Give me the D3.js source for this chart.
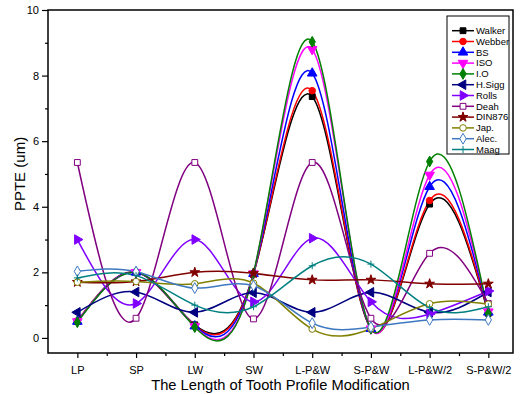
<!DOCTYPE html>
<html>
<head>
<meta charset="utf-8">
<script src="https://cdn.jsdelivr.net/npm/d3@7"></script>
<style>
    body { margin: 0; background: #fff; }
    svg { display: block; font-family: Arial, "Liberation Sans", sans-serif; }
</style>
</head>
<body>
<svg id="chart"></svg>
<script>
// values
const categories = ['LP', 'SP', 'LW', 'SW', 'L-P&W', 'S-P&W', 'L-P&W/2', 'S-P&W/2'];

const walker = [0.50, 2.00, 0.40, 1.95, 7.36, 0.28, 4.08, 0.75];
const webber = [0.52, 2.00, 0.38, 1.95, 7.54, 0.28, 4.19, 0.77];
const bs = [0.50, 2.00, 0.36, 1.96, 8.07, 0.28, 4.61, 0.78];
const iso = [0.50, 2.00, 0.35, 1.96, 8.80, 0.28, 4.97, 0.80];
const io = [0.48, 2.00, 0.33, 1.97, 9.03, 0.28, 5.38, 0.75];
const hSigg = [0.78, 1.40, 0.78, 1.38, 0.78, 1.39, 0.78, 1.40];
const rolls = [3.00, 1.05, 3.00, 1.10, 3.04, 1.10, 0.73, 1.43];
const deah = [5.35, 0.60, 5.35, 0.58, 5.35, 0.60, 2.58, 1.05];
const din876 = [1.70, 1.72, 2.00, 1.97, 1.77, 1.77, 1.65, 1.65];
const jap = [1.70, 1.72, 1.65, 1.67, 0.27, 0.28, 1.04, 1.03];
const alec = [2.03, 2.02, 1.52, 1.59, 0.45, 0.33, 0.55, 0.55];
const maag = [1.83, 1.90, 1.00, 0.95, 2.20, 2.25, 0.92, 0.95];

const seriesNames = ['Walker', 'Webber', 'BS', 'ISO', 'I.O', 'H.Sigg', 'Rolls', 'Deah', 'DIN876', 'Jap.', 'Alec.', 'Maag'];
const seriesValues = [walker, webber, bs, iso, io, hSigg, rolls, deah, din876, jap, alec, maag];

const yTicks = [0, 2, 4, 6, 8, 10];
const yMinorTicks = [1, 3, 5, 7, 9];

// marker styles, one per series
const styles = [
    { color: '#000000', shape: 'square', filled: true },
    { color: '#ff0000', shape: 'circle', filled: true },
    { color: '#0000ff', shape: 'up', filled: true },
    { color: '#ff00ff', shape: 'down', filled: true },
    { color: '#008000', shape: 'diamond', filled: true },
    { color: '#000080', shape: 'left', filled: true },
    { color: '#8000ff', shape: 'right', filled: true },
    { color: '#800080', shape: 'square', filled: false },
    { color: '#800000', shape: 'star', filled: true },
    { color: '#808000', shape: 'circle', filled: false },
    { color: '#3d78c0', shape: 'diamond', filled: false },
    { color: '#008080', shape: 'plus', filled: false },
];

const series = seriesNames.map((name, i) => ({ name, values: seriesValues[i], ...styles[i] }));

const width = 520;
const height = 394;
const margin = { top: 10, right: 7, bottom: 41, left: 48 };
const plotRight = width - margin.right;
const plotBottom = height - margin.bottom;

const svg = d3.select('#chart')
    .attr('width', width)
    .attr('height', height);

const x = d3.scaleLinear()
    .domain([-0.5, 7.42])
    .range([margin.left, plotRight]);

const y = d3.scaleLinear()
    .domain([-0.46, 10])
    .range([plotBottom, margin.top]);

const symbolPath = (shape) => {
    const sym = (type, size) => d3.symbol().type(type).size(size)();
    switch (shape) {
    case 'square': return { d: sym(d3.symbolSquare, 34), rot: 0 };
    case 'circle': return { d: sym(d3.symbolCircle, 34), rot: 0 };
    case 'up': return { d: sym(d3.symbolTriangle, 40), rot: 0 };
    case 'down': return { d: sym(d3.symbolTriangle, 40), rot: 180 };
    case 'left': return { d: sym(d3.symbolTriangle, 40), rot: -90 };
    case 'right': return { d: sym(d3.symbolTriangle, 40), rot: 90 };
    case 'diamond': return { d: sym(d3.symbolDiamond, 34), rot: 0 };
    case 'star': return { d: sym(d3.symbolStar, 30), rot: 0 };
    default: return { d: 'M-3.5,0H3.5M0,-3.5V3.5', rot: 0 };
    }
};

const drawMarker = (g, s, cx, cy) => {
    const { d, rot } = symbolPath(s.shape);
    g.append('path')
        .attr('d', d)
        .attr('transform', `translate(${cx},${cy}) rotate(${rot})`)
        .style('fill', s.filled ? s.color : (s.shape === 'plus' ? 'none' : '#fff'))
        .style('stroke', s.color)
        .style('stroke-width', 1);
};

// axes
const xAxis = d3.axisBottom(x)
    .tickValues(d3.range(categories.length))
    .tickFormat(i => categories[i])
    .tickSize(5)
    .tickSizeOuter(0);

const xMinor = d3.axisBottom(x)
    .tickValues(d3.range(0.5, 7, 1))
    .tickFormat('')
    .tickSize(3)
    .tickSizeOuter(0);

const yAxis = d3.axisLeft(y)
    .tickValues(yTicks)
    .tickSize(6)
    .tickSizeOuter(0);

const yMinor = d3.axisLeft(y)
    .tickValues(yMinorTicks)
    .tickFormat('')
    .tickSize(3)
    .tickSizeOuter(0);

const styleAxis = (g) => {
    g.select('.domain').remove();
    g.selectAll('line').style('stroke', '#000').style('stroke-width', 1.2);
    g.selectAll('text').style('fill', '#000').style('font-size', '11px')
        .style('font-family', 'Arial, "Liberation Sans", sans-serif');
};

svg.append('g')
    .attr('transform', `translate(0,${plotBottom})`)
    .call(xAxis)
    .call(styleAxis)
    .call(g => g.selectAll('text').attr('dy', '1.2em'));

svg.append('g')
    .attr('transform', `translate(0,${plotBottom})`)
    .call(xMinor)
    .call(styleAxis);

svg.append('g')
    .attr('transform', `translate(${margin.left},0)`)
    .call(yAxis)
    .call(styleAxis)
    .call(g => g.selectAll('text').attr('x', -9));

svg.append('g')
    .attr('transform', `translate(${margin.left},0)`)
    .call(yMinor)
    .call(styleAxis);

// series
const line = d3.line()
    .x((v, i) => x(i))
    .y(v => y(v))
    .curve(d3.curveNatural);

const plot = svg.append('g').attr('class', 'series');

series.forEach((s) => {
    plot.append('path')
        .datum(s.values)
        .attr('d', line)
        .style('fill', 'none')
        .style('stroke', s.color)
        .style('stroke-width', 1.5);
});

series.forEach((s) => {
    const g = plot.append('g');
    s.values.forEach((v, i) => drawMarker(g, s, x(i), y(v)));
});

// frame
svg.append('rect')
    .attr('x', margin.left)
    .attr('y', margin.top)
    .attr('width', plotRight - margin.left)
    .attr('height', plotBottom - margin.top)
    .style('fill', 'none')
    .style('stroke', '#000')
    .style('stroke-width', 1.5);

// axis titles
svg.append('text')
    .attr('x', (margin.left + plotRight) / 2)
    .attr('y', 390)
    .attr('text-anchor', 'middle')
    .style('font-size', '14.7px')
    .text('The Length of Tooth Profile Modification');

svg.append('text')
    .attr('transform', `translate(25,${y(5)}) rotate(-90)`)
    .attr('text-anchor', 'middle')
    .style('font-size', '15px')
    .text('PPTE (um)');

// legend
const legend = svg.append('g').attr('class', 'legend');

legend.append('rect')
    .attr('x', 447)
    .attr('y', 16)
    .attr('width', 62)
    .attr('height', 138)
    .style('fill', '#fff')
    .style('stroke', '#000')
    .style('stroke-width', 1);

series.forEach((s, i) => {
    const ly = 30.7 + i * 10.8;
    const row = legend.append('g');
    row.append('line')
        .attr('x1', 452)
        .attr('x2', 474)
        .attr('y1', ly)
        .attr('y2', ly)
        .style('stroke', s.color)
        .style('stroke-width', 1.5);
    drawMarker(row, s, 463, ly);
    row.append('text')
        .attr('x', 476)
        .attr('y', ly)
        .attr('dy', '0.35em')
        .style('font-size', '9.5px')
        .text(s.name);
});
</script>
</body>
</html>
